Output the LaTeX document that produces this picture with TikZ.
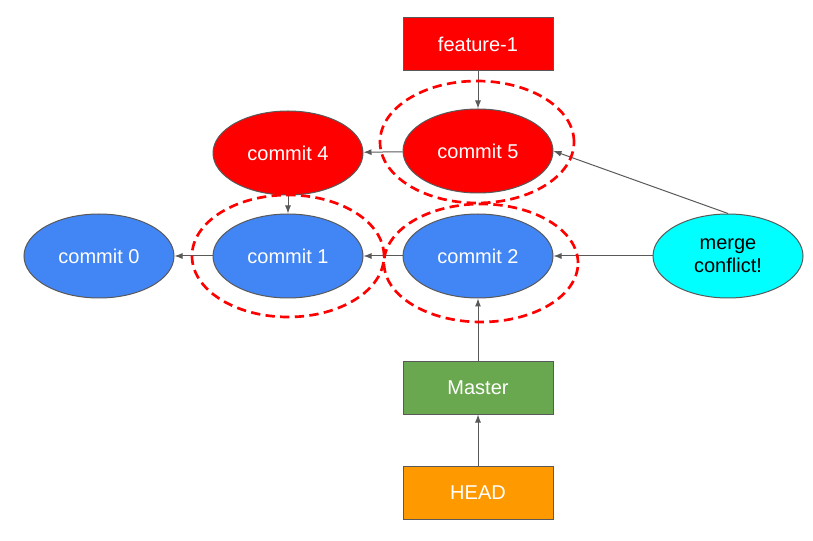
\documentclass[tikz,border=0pt]{standalone}
\usepackage{fontspec}
\setmainfont{Liberation Sans}
\usetikzlibrary{shapes.geometric,arrows.meta}
\definecolor{edgegray}{HTML}{595959}
\definecolor{featred}{HTML}{FF0000}
\definecolor{mainblue}{HTML}{4285F4}
\definecolor{mergecyan}{HTML}{00FFFF}
\definecolor{mastergreen}{HTML}{6AA84F}
\definecolor{headorange}{HTML}{FF9900}
\begin{document}
\begin{tikzpicture}[x=0.75pt,y=-0.75pt,
    commit/.style={ellipse, draw=edgegray, line width=0.75pt, minimum width=112.5pt,
        minimum height=63pt, text=white, font=\fontsize{15}{17.5}\selectfont},
    branch/.style={rectangle, draw=edgegray, line width=0.75pt, minimum width=112.5pt,
        minimum height=39.75pt, text=white, font=\fontsize{15}{17.5}\selectfont},
    link/.style={-{Latex[length=6pt,width=4.5pt]}, draw=edgegray, line width=0.75pt},
    conflict/.style={draw=featred, dashed, dash pattern=on 7pt off 4pt, line width=2pt}]
    \useasboundingbox (0,0) rectangle (813,541);

    % Branch labels
    \node[branch, fill=featred] (feat) at (478,44.5) {feature-1};
    \node[branch, fill=mastergreen] (master) at (478,387.5) {Master};
    \node[branch, fill=headorange] (head) at (478,492.5) {HEAD};

    % Commits
    \node[commit, fill=featred] (c5) at (478,151) {commit 5};
    \node[commit, fill=featred] (c4) at (288,153) {commit 4};
    \node[commit, fill=mainblue] (c0) at (99,256) {commit 0};
    \node[commit, fill=mainblue] (c1) at (288,256) {commit 1};
    \node[commit, fill=mainblue] (c2) at (478,256) {commit 2};
    \node[commit, fill=mergecyan, text=black, align=center] (merge) at (728,256) {merge\\conflict!};

    % Links
    \draw[link] (feat) -- (c5);
    \draw[link] (c5) -- (c4);
    \draw[link] (c4) -- (c1);
    \draw[link] (c1) -- (c0);
    \draw[link] (c2) -- (c1);
    \draw[link] (merge) -- (c2);
    \draw[link] (merge.north) -- (c5.east);
    \draw[link] (master) -- (c2);
    \draw[link] (head) -- (master);

    % Conflict marks
    \draw[conflict] (477,142) ellipse [x radius=72.75pt, y radius=45.75pt];
    \draw[conflict] (288,256) ellipse [x radius=72pt, y radius=45.75pt];
    \draw[conflict] (481,263) ellipse [x radius=72.75pt, y radius=44.25pt];
\end{tikzpicture}
\end{document}
